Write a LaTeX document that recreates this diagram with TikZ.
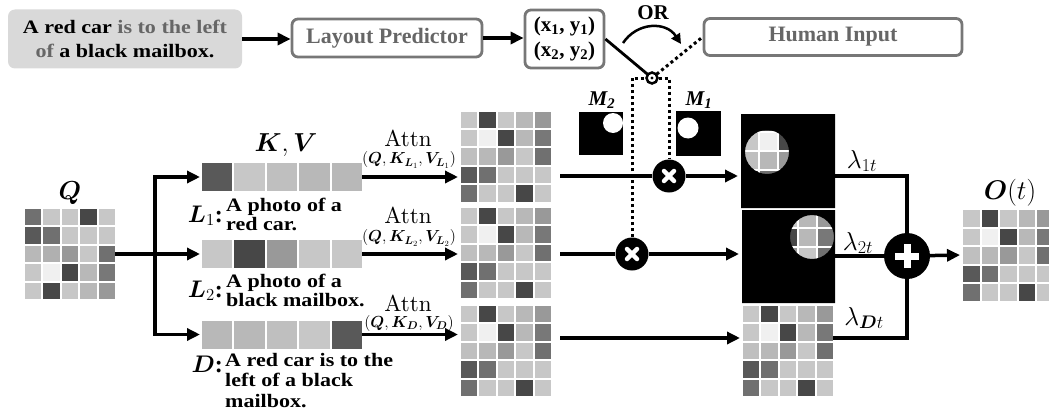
\RequirePackage{fix-cm}
\documentclass[tikz,border=0pt]{standalone}
\usepackage{amsmath,bm}
\usepackage{fontspec}
\setmainfont{Liberation Serif}
\newfontfamily\wide{Liberation Serif}[FakeStretch=1.16]
\font\attnfnt=cmr10 at 23pt
\usetikzlibrary{arrows.meta,calc}

\definecolor{txtgray}{HTML}{666666}
\definecolor{boxgray}{HTML}{777777}
\definecolor{lightbg}{HTML}{D9D9D9}

\newcommand\fsz[2]{\fontsize{#1}{#2}\selectfont}

% grid of grey cells: #1 corner, #2 pitch x, #3 pitch y, #4 cell w, #5 cell h, #6 rows
\newcommand\drawgrid[6]{%
  \foreach \r [count=\i from 0] in #6 {
    \foreach \v [count=\j from 0] in \r {
      \fill[black!\v] ($(#1)+(\j*#2,\i*#3)$) rectangle ++(#4,#5);
    }
  }}

\def\attpat{{22,72,22,28,40},{22,6,72,28,53},{25,28,40,22,56},{65,56,22,22,22},{56,22,22,72,22}}
\def\qpat{{56,22,22,72,22},{65,56,22,22,22},{28,31,40,22,56},{22,6,72,28,53},{22,72,22,28,40}}
\def\barA{{65,22,25,28,28}}
\def\barB{{22,72,40,22,22}}
\def\barC{{28,28,25,22,65}}

\tikzset{
  conn/.style={line width=3.5pt},
  arr/.style={conn,-{Triangle[length=13pt,width=12pt]}},
  dots/.style={line width=3pt, dash pattern=on 3pt off 3pt},
  graybox/.style={draw=boxgray, line width=2.8pt, rounded corners=6pt,
    text=txtgray, font=\bfseries\fsz{22}{25}, inner sep=0pt, align=center},
  holder/.style={inner sep=0pt, outer sep=0pt, minimum width=#1, minimum height=#1},
  barholder/.style={inner sep=0pt, outer sep=0pt, minimum width=160pt, minimum height=28pt},
  mulnode/.style={circle, fill=black, minimum size=33pt, inner sep=0pt},
  cross/.style={white, line width=4.5pt, line cap=round},
  attnlbl/.style={font=\attnfnt, inner sep=0pt, anchor=base},
  argslbl/.style={font=\fsz{16}{16}, inner sep=0pt},
  lamlbl/.style={font=\fsz{26}{26}, inner sep=0pt, anchor=base},
  biglbl/.style={font=\fsz{26}{26}, inner sep=0pt},
  keylbl/.style={font=\fsz{24}{24}, inner sep=0pt, anchor=base east},
  prompttxt/.style={font=\wide\bfseries\fsz{19}{18.5}, inner sep=0pt, anchor=west, align=left},
  masklbl/.style={font=\bfseries\itshape\fsz{21}{21}, inner sep=0pt},
}

\begin{document}
\begin{tikzpicture}[x=1pt,y=-1pt]
\useasboundingbox (0,0) rectangle (1049,412);

% ---------- top row: prompt, layout predictor, boxes, switch ----------
\node[fill=lightbg, rounded corners=7pt, minimum width=234pt, minimum height=59pt,
  align=center, inner sep=0pt, font=\wide\bfseries\fsz{19}{24}] (prompt) at (125,39)
  {A red car \textcolor{txtgray}{is to the left}\\\textcolor{txtgray}{of} a black mailbox.};
\node[graybox, minimum width=190pt, minimum height=38pt] (lp) at (387,38) {Layout Predictor};
\node[graybox, text=black, minimum width=79pt, minimum height=58pt, font=\bfseries\fsz{21}{25}] (xy) at (564.5,39)
  {(x\textsubscript{1}, y\textsubscript{1})\\(x\textsubscript{2}, y\textsubscript{2})};
\node[graybox, minimum width=258pt, minimum height=37pt] (hi) at (833,37) {Human Input};

\draw[arr] (prompt.east) -- (prompt.east -| lp.west);
\draw[arr] (lp.east) -- (lp.east -| xy.west);

% ---------- masks ----------
\node[fill=black, minimum width=44pt, minimum height=43pt, inner sep=0pt] (m2) at (601,133.5) {};
\node[fill=black, minimum width=45pt, minimum height=45pt, inner sep=0pt] (m1) at (698.5,133.5) {};
\begin{scope}
  \clip (m2.north west) rectangle (m2.south east);
  \fill[white] (613,123) circle (10);
\end{scope}
\fill[white] (688,128) circle (10.5);
\node[masklbl] (m2l) at (602,100) {M\textsubscript{2}};
\node[masklbl] (m1l) at (699,100) {M\textsubscript{1}};

% ---------- multiplication nodes and the switch ----------
\coordinate (swc) at (652,78);
\node[mulnode] (mul1) at (669,176) {};
\node[mulnode] (mul2) at (632,254) {};
\draw[dots] (mul2) -- (mul2 |- swc) -- (mul1 |- swc) -- (mul1);
\draw[dots] (swc) -- (hi.west);
\draw[line width=2.8pt] (xy.east) -- (swc);
\node[circle, draw, fill=white, line width=2.5pt, minimum size=11pt, inner sep=0pt] (sw) at (swc) {};
\fill (sw.center) circle (1.7);
\node[font=\bfseries\fsz{21}{21}, inner sep=0pt] (or) at (653,13) {OR};
\coordinate (ca) at (623,43);
\coordinate (cb) at (681,44);
\draw[line width=2.5pt, -{Triangle[length=10pt,width=10pt]}] (ca) .. controls (637,22) and (666,21) .. (cb);

\foreach \m in {mul1,mul2} {
  \draw[cross] ([shift={(-5,-5)}]\m.center) -- ([shift={(5,5)}]\m.center);
  \draw[cross] ([shift={(-5,5)}]\m.center) -- ([shift={(5,-5)}]\m.center);
}

% ---------- query grid ----------
\node[holder=90pt] (qgrid) at (70,254) {};
\drawgrid{qgrid.north west}{18.4}{18.4}{16.4}{16.4}{\qpat}
\node[biglbl] (ql) at (70,193) {$\bm{Q}$};

% ---------- key/value bars ----------
\node[barholder] (bar1) at (282,177) {};
\node[barholder] (bar2) at (282,254) {};
\node[barholder] (bar3) at (282,334.5) {};
\drawgrid{bar1.north west}{32.4}{0}{30.4}{28}{\barA}
\drawgrid{bar2.north west}{32.4}{0}{30.4}{28}{\barB}
\drawgrid{bar3.north west}{32.4}{0}{30.4}{28}{\barC}
\node[biglbl] (kv) at (286,145) {$\bm{K},\bm{V}$};

\coordinate (br) at (155,254);
\draw[arr, shorten >=2pt] (qgrid.east) -- (bar2.west);
\draw[arr, shorten >=2pt] (br) |- (bar1.west);
\draw[arr, shorten >=2pt] (br) |- (bar3.west);

% ---------- prompt labels ----------
\node[keylbl] (k1) at (223,222) {$\bm{L}_1$\textbf{:}};
\node[prompttxt] (t1) at (226,214.5) {A photo of a\\red car.};
\node[keylbl] (k2) at (223,297) {$\bm{L}_2$\textbf{:}};
\node[prompttxt] (t2) at (226,290.5) {A photo of a\\black mailbox.};
\node[keylbl] (k3) at (223,372) {$\bm{D}$\textbf{:}};
\node[prompttxt, font=\wide\bfseries\fsz{19}{20.5}] (t3) at (225,380.5) {A red car is to the\\left of a black\\mailbox.};

% ---------- attention grids ----------
\node[holder=90pt] (att1) at (506,156.5) {};
\node[holder=90pt] (att2) at (506,253) {};
\node[holder=90pt] (att3) at (506,351) {};
\foreach \a in {att1,att2,att3} {
  \drawgrid{\a.north west}{18.4}{18.4}{16.4}{16.4}{\attpat}
}
\draw[arr, shorten >=3pt] (bar1.east) -- (bar1.east -| att1.west);
\draw[arr, shorten >=3pt] (bar2.east) -- (bar2.east -| att2.west);
\draw[arr, shorten >=3pt] (bar3.east) -- (bar3.east -| att3.west);
\node[attnlbl] (at1) at (408,146) {Attn};
\node[argslbl] (ar1) at (409,160) {$(\bm{Q},\bm{K}_{\bm{L}_1},\bm{V}_{\bm{L}_1})$};
\node[attnlbl] (at2) at (408,223) {Attn};
\node[argslbl] (ar2) at (409,238) {$(\bm{Q},\bm{K}_{\bm{L}_2},\bm{V}_{\bm{L}_2})$};
\node[attnlbl] (at3) at (408,311) {Attn};
\node[argslbl] (ar3) at (409,323) {$(\bm{Q},\bm{K}_{\bm{D}},\bm{V}_{\bm{D}})$};

% ---------- masked outputs ----------
\node[holder=94pt] (out1) at (788,161) {};
\node[holder=93pt] (out2) at (788.5,256.5) {};
\node[holder=90pt] (out3) at (788,351) {};
\drawgrid{out1.north west}{19}{19}{17}{17}{\attpat}
\drawgrid{out2.north west}{19}{19}{17}{17}{\attpat}
\drawgrid{out3.north west}{18.4}{18.4}{16.4}{16.4}{\attpat}
\fill[black, even odd rule] (out1.north west) rectangle (out1.south east) (767,152) circle (22);
\fill[black, even odd rule] (out2.north west) rectangle (out2.south east) (812,237) circle (22);

\coordinate (r3) at (650,338);
\draw[conn, shorten <=9pt] (att1.east |- mul1) -- (mul1);
\draw[arr, shorten >=3pt] (mul1) -- (out1.west |- mul1);
\draw[conn, shorten <=9pt] (att2.east |- mul2) -- (mul2);
\draw[arr, shorten >=3pt] (mul2) -- (out2.west |- mul2);
\draw[arr, shorten <=9pt, shorten >=3pt] (att3.east |- r3) -- (out3.west |- r3);

% ---------- weighted sum ----------
\node[circle, fill=black, minimum size=46pt, inner sep=0pt] (plus) at (907,256) {};
\draw[conn] (out1.east |- mul1) -| (plus);
\draw[conn] (out2.east |- plus) -- (plus);
\draw[conn] (out3.east |- r3) -| (plus);
\draw[white, line width=7pt] ([xshift=-12pt]plus.center) -- ([xshift=12pt]plus.center);
\draw[white, line width=7pt] ([yshift=-12pt]plus.center) -- ([yshift=12pt]plus.center);
\node[lamlbl] (l1) at (862,168) {$\lambda_{1t}$};
\node[lamlbl] (l2) at (858,250) {$\lambda_{2t}$};
\node[lamlbl] (l3) at (864,325) {$\lambda_{\bm{D}t}$};

\node[holder=90pt] (ogrid) at (1008,255) {};
\drawgrid{ogrid.north west}{18.5}{18.5}{16.5}{16.5}{\attpat}
\draw[arr, shorten >=3pt] (plus) -- (ogrid.west);
\node[biglbl, font=\fsz{27}{27}] (ol) at (1010,193) {$\bm{O}(t)$};
\end{tikzpicture}
\end{document}
